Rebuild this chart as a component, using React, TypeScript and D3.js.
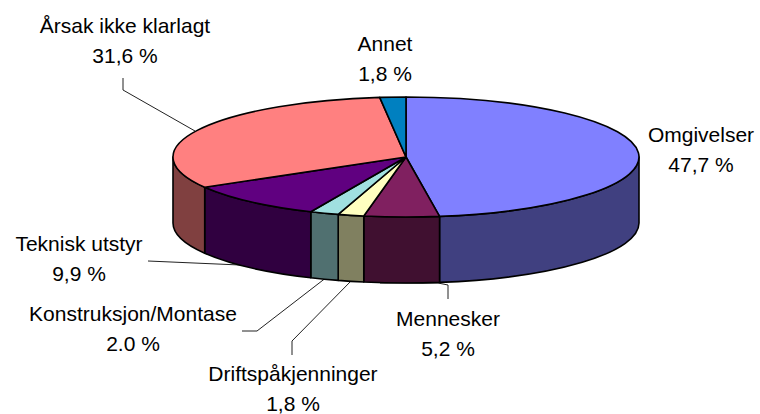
import React from "react";
import * as d3 from "d3";

const categories = ["Omgivelser", "Mennesker", "Driftspåkjenninger", "Konstruksjon/Montase", "Teknisk utstyr", "Årsak ikke klarlagt", "Annet"];
const values = [47.7, 5.2, 1.8, 2.0, 9.9, 31.6, 1.8];
const valueLabels = ["47,7 %", "5,2 %", "1,8 %", "2.0 %", "9,9 %", "31,6 %", "1,8 %"];
const topColors = ["#8080ff", "#802060", "#ffffc0", "#a0e0e0", "#600080", "#ff8080", "#0080c0"];
const sideColors = ["#404080", "#401030", "#808060", "#507070", "#300040", "#804040", "#004060"];
const labelAnchors = [[701, 142], [448, 326], [293, 381], [133, 321], [79, 251], [125, 33], [385, 51]];
const leaders = [
  null,
  [[380, 283], [438, 283], [448, 285], [448, 299]],
  [[352, 280], [292, 341], [292, 355]],
  [[327, 277], [257, 331], [242, 331]],
  [[240, 265], [148, 261]],
  [[195, 131], [123, 90], [123, 78]],
  null,
];

const cx = 406, cy = 157, rx = 233, ry = 60, depth = 66;

const pt = (a: number, dy = 0): [number, number] => [cx + rx * Math.sin(a), cy - ry * Math.cos(a) + dy];

function topPath(a0: number, a1: number) {
  const p0 = pt(a0), p1 = pt(a1);
  const large = a1 - a0 > Math.PI ? 1 : 0;
  return `M${cx},${cy}L${p0[0]},${p0[1]}A${rx},${ry} 0 ${large} 1 ${p1[0]},${p1[1]}Z`;
}

function wallPath(a0: number, a1: number) {
  const s = Math.max(a0, Math.PI / 2), e = Math.min(a1, Math.PI * 1.5);
  if (e <= s) return null;
  const p0 = pt(s), p1 = pt(e), q0 = pt(s, depth), q1 = pt(e, depth);
  return `M${p0[0]},${p0[1]}A${rx},${ry} 0 0 1 ${p1[0]},${p1[1]}L${q1[0]},${q1[1]}A${rx},${ry} 0 0 0 ${q0[0]},${q0[1]}Z`;
}

export default function App() {
  const arcs = d3.pie<number>().sort(null).value((d) => d)(values);
  const line = d3.line();
  return (
    <svg width={760} height={414} style={{ position: "absolute", left: 0, top: 0, background: "#fff" }} fontFamily="'Liberation Sans', Arial, sans-serif" fontSize={21}>
      {leaders.map((l, i) => l ? <path key={i} d={line(l as [number, number][])!} fill="none" stroke="#222" strokeWidth={1} /> : null)}
      {arcs.map((a, i) => {
        const d = wallPath(a.startAngle, a.endAngle);
        return d ? <path key={i} d={d} fill={sideColors[i]} stroke="#000" strokeWidth={1.6} strokeLinejoin="round" /> : null;
      })}
      {arcs.map((a, i) => (
        <path key={i} d={topPath(a.startAngle, a.endAngle)} fill={topColors[i]} stroke="#000" strokeWidth={1.6} strokeLinejoin="round" />
      ))}
      {categories.map((c, i) => (
        <text key={c} textAnchor="middle" x={labelAnchors[i][0]} y={labelAnchors[i][1]} fill="#000">
          <tspan x={labelAnchors[i][0]} dy={0}>{c}</tspan>
          <tspan x={labelAnchors[i][0]} dy={30}>{valueLabels[i]}</tspan>
        </text>
      ))}
    </svg>
  );
}
